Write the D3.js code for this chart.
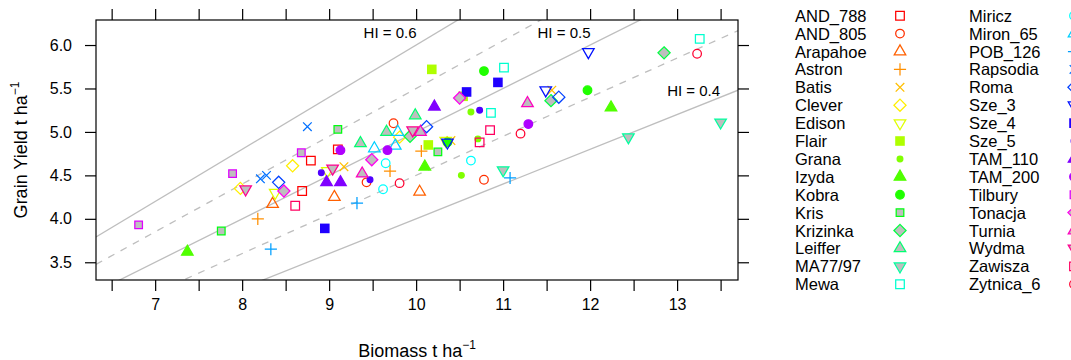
<!DOCTYPE html>
<html>
<head>
<meta charset="utf-8">
<script src="https://cdn.jsdelivr.net/npm/d3@7"></script>
<style>
  body { margin: 0; background: #fff; }
  svg { display: block; font-family: "Liberation Sans", Arial, sans-serif; }
</style>
</head>
<body>
<div id="chart"></div>
<script>
// cultivars, in legend order
const cultivars = [
  "AND_788", "AND_805", "Arapahoe", "Astron", "Batis", "Clever", "Edison", "Flair",
  "Grana", "Izyda", "Kobra", "Kris", "Krizinka", "Leiffer", "MA77/97", "Mewa",
  "Miricz", "Miron_65", "POB_126", "Rapsodia", "Roma", "Sze_3", "Sze_4", "Sze_5",
  "TAM_110", "TAM_200", "Tilbury", "Tonacja", "Turnia", "Wydma", "Zawisza", "Zytnica_6"
];

// biomass (t/ha), three observations per cultivar
const biomass = [
  [8.79, 8.69, 9.10], [9.74, 10.78, 9.43], [8.35, 9.06, 10.04], [8.18, 9.70, 10.06],
  [9.17, 11.56, 10.40], [8.58, 7.98, 9.81], [8.98, 8.38, 10.34], [10.18, 10.14, 10.54],
  [10.63, 10.71, 10.52], [7.37, 10.10, 12.24], [10.78, 11.97, 10.36], [9.10, 10.25, 7.76],
  [9.93, 12.85, 11.55], [9.99, 9.66, 9.36], [11.00, 12.44, 13.50], [11.01, 10.86, 13.26],
  [9.65, 9.62, 10.63], [9.52, 9.76, 9.79], [8.33, 9.32, 11.08], [8.75, 8.21, 8.28],
  [8.42, 10.12, 11.64], [10.36, 11.98, 11.49], [10.94, 10.58, 8.95], [10.73, 8.91, 9.47],
  [10.21, 8.97, 9.13], [9.13, 9.67, 11.29], [8.68, 7.89, 6.81], [10.50, 9.49, 8.48],
  [10.05, 9.38, 11.28], [9.96, 9.04, 8.04], [8.61, 10.85, 10.73], [9.81, 11.20, 13.23]
];

// grain yield (t/ha), same order
const grainYield = [
  [4.67, 4.32, 4.80], [5.10, 4.45, 4.42], [4.17, 4.25, 4.31], [4.00, 4.55, 4.78],
  [4.60, 5.48, 4.90], [4.61, 4.35, 4.94], [4.55, 4.30, 4.90], [5.72, 4.85, 5.41],
  [5.23, 4.92, 4.50], [3.62, 4.60, 5.28], [5.70, 5.48, 4.88], [5.03, 4.77, 3.86],
  [4.95, 5.91, 5.36], [5.19, 5.00, 4.87], [4.56, 4.94, 5.11], [5.74, 5.22, 6.07],
  [4.64, 4.34, 4.67], [4.81, 4.84, 5.00], [3.65, 4.18, 4.47], [5.06, 4.46, 4.50],
  [4.42, 5.06, 5.40], [4.88, 5.92, 5.48], [5.57, 5.46, 3.89], [5.25, 4.53, 4.45],
  [5.29, 4.42, 4.42], [4.79, 4.79, 5.09], [4.76, 4.52, 3.93], [5.39, 4.68, 4.32],
  [5.00, 4.52, 5.33], [5.02, 4.58, 4.34], [4.15, 5.02, 4.88], [4.41, 4.98, 5.90]
];

// harvest index reference lines (yield = HI * biomass)
const hiSolid = [0.4, 0.5, 0.6];
const hiDashed = [0.45, 0.55];
const hiLabels = ["HI = 0.4", "HI = 0.5", "HI = 0.6"];

const xTicks = d3.range(6.5, 13.51, 0.5);
const yTicks = [3.5, 4.0, 4.5, 5.0, 5.5, 6.0];

const W = 1071, H = 360;
const margin = { top: 20, right: 333, bottom: 80, left: 96 };
const pw = W - margin.left - margin.right;
const ph = H - margin.top - margin.bottom;

const x = d3.scaleLinear().domain([6.32, 13.70]).range([0, pw]);
const y = d3.scaleLinear().domain([3.296, 6.288]).range([ph, 0]);

// R-style point symbols (pch), one per cultivar, cycling
const pchCycle = [0, 1, 2, 3, 4, 5, 6, 15, 20, 17, 19, 22, 23, 24, 25];
const colour = i => d3.hsl(i * 360 / cultivars.length, 1, 0.5).formatHex();
const BG = "#bebebe";
const RAD = 4.3;

function drawPch(g, pch, cx, cy, col) {
  const sw = 1.25;
  const tri = (up) => {
    const r = 1.5551 * RAD, xc = 0.866 * r, yc = 0.5 * r;
    return up
      ? `M${cx},${cy - r}L${cx + xc},${cy + yc}L${cx - xc},${cy + yc}Z`
      : `M${cx},${cy + r}L${cx + xc},${cy - yc}L${cx - xc},${cy - yc}Z`;
  };
  const sq = (xc) => `M${cx - xc},${cy - xc}h${2 * xc}v${2 * xc}h${-2 * xc}Z`;
  const dia = () => {
    const xc = Math.SQRT2 * RAD;
    return `M${cx},${cy - xc}L${cx + xc},${cy}L${cx},${cy + xc}L${cx - xc},${cy}Z`;
  };
  const path = (d, fill) => g.append("path").attr("d", d)
    .attr("fill", fill).attr("stroke", col).attr("stroke-width", sw);

  switch (pch) {
    case 0: path(sq(RAD), "none"); break;
    case 1: g.append("circle").attr("cx", cx).attr("cy", cy).attr("r", RAD)
      .attr("fill", "none").attr("stroke", col).attr("stroke-width", sw); break;
    case 2: path(tri(true), "none"); break;
    case 3: {
      const xc = Math.SQRT2 * RAD;
      path(`M${cx - xc},${cy}H${cx + xc}M${cx},${cy - xc}V${cy + xc}`, "none"); break;
    }
    case 4:
      path(`M${cx - RAD},${cy - RAD}L${cx + RAD},${cy + RAD}M${cx - RAD},${cy + RAD}L${cx + RAD},${cy - RAD}`, "none"); break;
    case 5: path(dia(), "none"); break;
    case 6: path(tri(false), "none"); break;
    case 15: g.append("path").attr("d", sq(RAD + 0.5)).attr("fill", col); break;
    case 20: g.append("circle").attr("cx", cx).attr("cy", cy).attr("r", RAD * 2 / 3)
      .attr("fill", col).attr("stroke", col).attr("stroke-width", sw); break;
    case 17: path(tri(true), col); break;
    case 19: g.append("circle").attr("cx", cx).attr("cy", cy).attr("r", RAD)
      .attr("fill", col).attr("stroke", col).attr("stroke-width", sw); break;
    case 22: path(sq(RAD * 0.886), BG); break;
    case 23: path(dia(), BG); break;
    case 24: path(tri(true), BG); break;
    case 25: path(tri(false), BG); break;
  }
}

const svg = d3.select("#chart").append("svg")
  .attr("width", W).attr("height", H);

svg.append("defs").append("clipPath").attr("id", "plotclip")
  .append("rect").attr("width", pw).attr("height", ph);

const g = svg.append("g").attr("transform", `translate(${margin.left},${margin.top})`);

// HI lines
const lines = g.append("g").attr("clip-path", "url(#plotclip)");
const xd = x.domain();
hiSolid.concat(hiDashed).forEach(hi => {
  lines.append("line")
    .attr("x1", x(xd[0])).attr("y1", y(hi * xd[0]))
    .attr("x2", x(xd[1])).attr("y2", y(hi * xd[1]))
    .attr("stroke", "#bebebe").attr("stroke-width", 1.3)
    .attr("stroke-dasharray", hiDashed.includes(hi) ? "7,7" : null);
});

// HI labels
const labelPos = [[13.19, 5.48], [11.70, 6.14], [9.70, 6.14]];
hiLabels.forEach((t, i) => {
  g.append("text")
    .attr("x", x(labelPos[i][0])).attr("y", y(labelPos[i][1]))
    .attr("text-anchor", "middle").attr("dominant-baseline", "central")
    .attr("font-size", 15).attr("fill", "#000").text(t);
});

// points
const pts = g.append("g");
cultivars.forEach((c, i) => {
  biomass[i].forEach((b, j) => {
    drawPch(pts, pchCycle[i % pchCycle.length], x(b), y(grainYield[i][j]), colour(i));
  });
});

// axes
const styleAxis = sel => {
  sel.select(".domain").remove();
  sel.selectAll(".tick line").attr("stroke", "#000").attr("stroke-width", 1.2);
  sel.selectAll(".tick text").attr("font-size", 16).attr("fill", "#000")
    .attr("font-family", "'Liberation Sans', Arial, sans-serif");
};

g.append("g").attr("transform", `translate(0,${ph})`)
  .call(d3.axisBottom(x).tickValues(xTicks).tickSize(11).tickPadding(8)
    .tickFormat(d => Number.isInteger(d) ? d : ""))
  .call(styleAxis);
g.append("g")
  .call(d3.axisTop(x).tickValues(xTicks).tickSize(11).tickFormat(""))
  .call(styleAxis);
g.append("g")
  .call(d3.axisLeft(y).tickValues(yTicks).tickSize(11).tickPadding(13)
    .tickFormat(d3.format(".1f")))
  .call(styleAxis);
g.append("g").attr("transform", `translate(${pw},0)`)
  .call(d3.axisRight(y).tickValues(yTicks).tickSize(11).tickFormat(""))
  .call(styleAxis);

g.append("rect").attr("width", pw).attr("height", ph)
  .attr("fill", "none").attr("stroke", "#000").attr("stroke-width", 1.2);

// axis titles
const xt = svg.append("text")
  .attr("x", margin.left + pw / 2).attr("y", 357)
  .attr("text-anchor", "middle").attr("font-size", 18);
xt.append("tspan").text("Biomass t ha");
xt.append("tspan").attr("font-size", 12).attr("dy", -8).text("\u22121");

const yt = svg.append("text")
  .attr("transform", `translate(27,${margin.top + ph / 2}) rotate(-90)`)
  .attr("text-anchor", "middle").attr("font-size", 18);
yt.append("tspan").text("Grain Yield t ha");
yt.append("tspan").attr("font-size", 12).attr("dy", -8).text("\u22121");

// legend, two columns of 16
const legend = svg.append("g");
cultivars.forEach((c, i) => {
  const col = Math.floor(i / 16), row = i % 16;
  const ly = 15.7 + row * 17.9;
  const tx = col === 0 ? 795 : 969;
  legend.append("text").attr("x", tx).attr("y", ly)
    .attr("dominant-baseline", "central").attr("font-size", 16.5).text(c);
  drawPch(legend, pchCycle[i % pchCycle.length], tx + 105, ly, colour(i));
});
</script>
</body>
</html>
